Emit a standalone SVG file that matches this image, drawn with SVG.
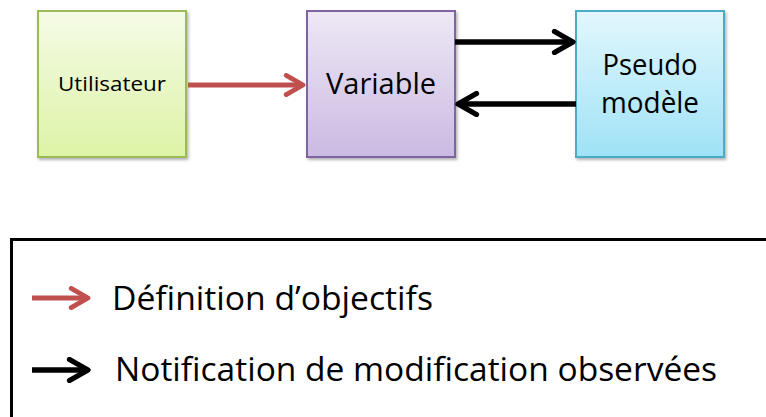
<svg xmlns="http://www.w3.org/2000/svg" width="766" height="417" viewBox="0 0 766 417">
<defs>
<linearGradient id="gGreen" x1="0" y1="0" x2="0" y2="1"><stop offset="0" stop-color="#f5fbe6"/><stop offset="1" stop-color="#ddf3a6"/></linearGradient>
<linearGradient id="gPurple" x1="0" y1="0" x2="0" y2="1"><stop offset="0" stop-color="#eee8f5"/><stop offset="1" stop-color="#cbbae2"/></linearGradient>
<linearGradient id="gBlue" x1="0" y1="0" x2="0" y2="1"><stop offset="0" stop-color="#e2f7fd"/><stop offset="1" stop-color="#9fe2f6"/></linearGradient>
<filter id="sh" x="-10%" y="-10%" width="130%" height="130%"><feDropShadow dx="1.5" dy="2" stdDeviation="1.5" flood-color="#000" flood-opacity="0.3"/></filter>
<marker id="mRed" viewBox="0 0 10 10" refX="8.5" refY="5" markerWidth="4.8" markerHeight="4.8" orient="auto" markerUnits="strokeWidth"><path d="M1.5,1 L8.5,5 L1.5,9" fill="none" stroke="#c0504d" stroke-width="2" stroke-linecap="round" stroke-linejoin="round"/></marker>
<marker id="mBlack" viewBox="0 0 10 10" refX="8.5" refY="5" markerWidth="4.8" markerHeight="4.8" orient="auto" markerUnits="strokeWidth"><path d="M1.5,1 L8.5,5 L1.5,9" fill="none" stroke="#000" stroke-width="2" stroke-linecap="round" stroke-linejoin="round"/></marker>
</defs>
<style>
.box{stroke-width:2;filter:url(#sh)}
.t{font-family:"Open Sans","Liberation Sans",sans-serif;fill:#000;text-anchor:middle}
.lg{font-family:"Open Sans","Liberation Sans",sans-serif;fill:#000}
.red{stroke:#c0504d;stroke-width:5;fill:none;marker-end:url(#mRed)}
.blk{stroke:#000;stroke-width:5.5;fill:none;marker-end:url(#mBlack)}
</style>
<g id="utilisateur">
<rect class="box" x="38" y="11" width="148" height="146" fill="url(#gGreen)" stroke="#9bbb59"/>
<text class="t" x="112" y="91" font-size="20" textLength="108" lengthAdjust="spacingAndGlyphs">Utilisateur</text>
</g>
<g id="variable">
<rect class="box" x="307" y="11" width="148" height="146" fill="url(#gPurple)" stroke="#8064a2"/>
<text class="t" x="381" y="94" font-size="29" textLength="110" lengthAdjust="spacingAndGlyphs">Variable</text>
</g>
<g id="pseudo">
<rect class="box" x="576" y="11" width="148" height="146" fill="url(#gBlue)" stroke="#4bacc6"/>
<text class="t" x="650" y="75" font-size="29" textLength="95" lengthAdjust="spacingAndGlyphs">Pseudo</text>
<text class="t" x="650" y="113" font-size="29" textLength="98" lengthAdjust="spacingAndGlyphs">modèle</text>
</g>
<g id="connectors">
<line class="red" x1="188" y1="85" x2="303" y2="85"/>
<line class="blk" x1="455" y1="42" x2="573" y2="42"/>
<line class="blk" x1="576" y1="104" x2="458" y2="104"/>
</g>
<g id="legend">
<rect x="11.5" y="239.5" width="770" height="200" fill="#fff" stroke="#000" stroke-width="3"/>
<line class="red" x1="32" y1="298" x2="88" y2="298"/>
<text class="lg" x="112" y="310" font-size="33" textLength="321" lengthAdjust="spacingAndGlyphs">Définition d’objectifs</text>
<line class="blk" x1="32" y1="370" x2="88" y2="370"/>
<text class="lg" x="115" y="381" font-size="33" textLength="602" lengthAdjust="spacingAndGlyphs">Notification de modification observées</text>
</g>
</svg>
